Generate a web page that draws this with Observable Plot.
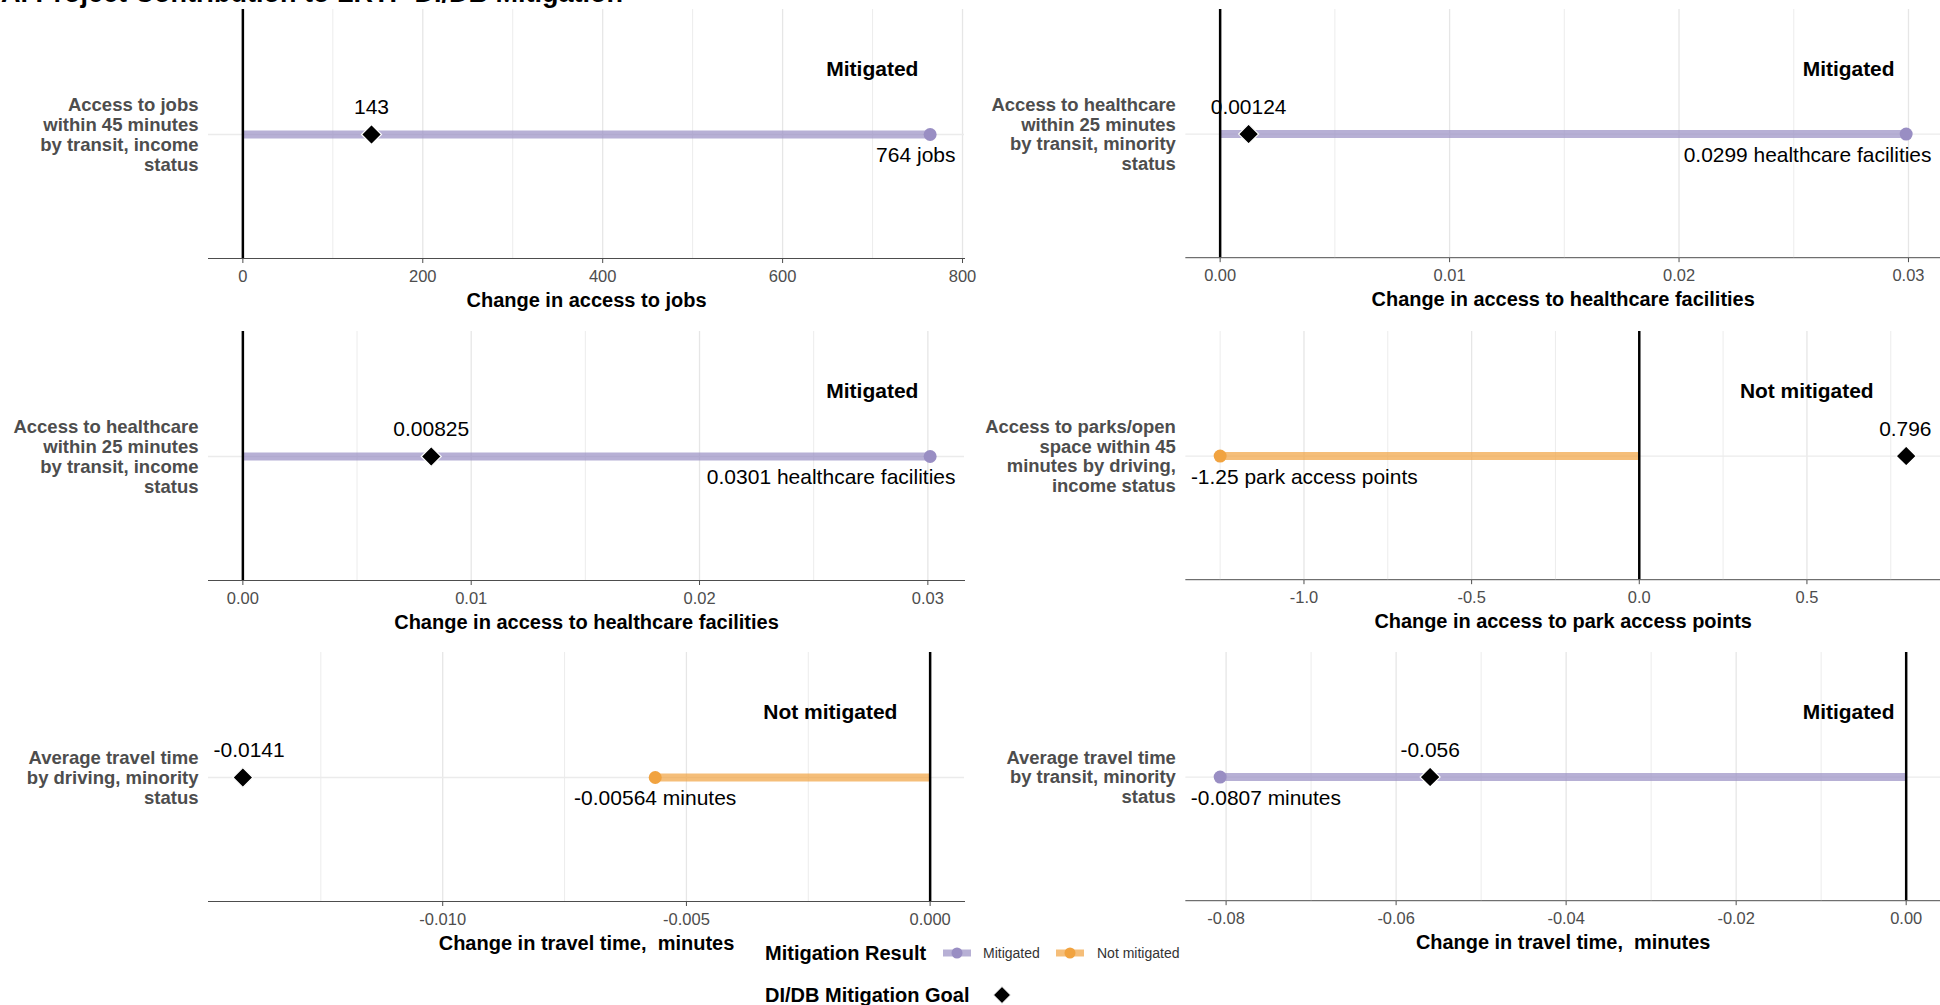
<!DOCTYPE html>
<html>
<head>
<meta charset="utf-8">
<script src="https://cdn.jsdelivr.net/npm/d3@7"></script>
<script src="https://cdn.jsdelivr.net/npm/@observablehq/plot@0.6"></script>
<style>
html, body { margin: 0; padding: 0; background: #fff; }
#root { position: relative; width: 1940px; height: 1005px; overflow: hidden; font-family: "Liberation Sans", Arial, sans-serif; background: #fff; }
.panel { position: absolute; }
.panel svg { overflow: visible; }
.panel text { white-space: pre; }
#title { position: absolute; left: 1px; top: -20px; font-size: 27px; line-height: 1; font-weight: bold; white-space: nowrap; color: #000; }
.lg { position: absolute; white-space: nowrap; line-height: 24px; }
.lgTitle { font-size: 20px; font-weight: bold; color: #000; }
.lgLab { font-size: 14px; color: #333; }
.lgKey { position: absolute; }
</style>
</head>
<body>
<div id="root">
  <div id="title">A. Project Contribution to LRTP DI/DB Mitigation</div>
</div>
<script>
// ---------------- DATA ----------------
const categories = [
  "Access to jobs\nwithin 45 minutes\nby transit, income\nstatus",
  "Access to healthcare\nwithin 25 minutes\nby transit, minority\nstatus",
  "Access to healthcare\nwithin 25 minutes\nby transit, income\nstatus",
  "Access to parks/open\nspace within 45\nminutes by driving,\nincome status",
  "Average travel time\nby driving, minority\nstatus",
  "Average travel time\nby transit, minority\nstatus"
];
const resultValues = [764, 0.0299, 0.0301, -1.25, -0.00564, -0.0807];
const goalValues = [143, 0.00124, 0.00825, 0.796, -0.0141, -0.056];
const statuses = ["Mitigated", "Mitigated", "Mitigated", "Not mitigated", "Not mitigated", "Mitigated"];
const resultLabels = [
  "764 jobs",
  "0.0299 healthcare facilities",
  "0.0301 healthcare facilities",
  "-1.25 park access points",
  "-0.00564 minutes",
  "-0.0807 minutes"
];
const goalLabels = ["143", "0.00124", "0.00825", "0.796", "-0.0141", "-0.056"];
const axisTitles = [
  "Change in access to jobs",
  "Change in access to healthcare facilities",
  "Change in access to healthcare facilities",
  "Change in access to park access points",
  "Change in travel time,  minutes",
  "Change in travel time,  minutes"
];
const tickValues = [
  [0, 200, 400, 600, 800],
  [0, 0.01, 0.02, 0.03],
  [0, 0.01, 0.02, 0.03],
  [-1, -0.5, 0, 0.5],
  [-0.01, -0.005, 0],
  [-0.08, -0.06, -0.04, -0.02, 0]
];
const tickLabels = [
  ["0", "200", "400", "600", "800"],
  ["0.00", "0.01", "0.02", "0.03"],
  ["0.00", "0.01", "0.02", "0.03"],
  ["-1.0", "-0.5", "0.0", "0.5"],
  ["-0.010", "-0.005", "0.000"],
  ["-0.08", "-0.06", "-0.04", "-0.02", "0.00"]
];
const legendResults = ["Mitigated", "Not mitigated"];

// ---------------- STYLES ----------------
const dotColor = {"Mitigated": "#998ec3", "Not mitigated": "#f1a340"};
const FONT = "Liberation Sans";
const canvas = document.createElement("canvas");
const ctx = canvas.getContext("2d");
function measure(text, size, weight) {
  ctx.font = `${weight || "normal"} ${size}px "${FONT}"`;
  return ctx.measureText(text).width;
}

const root = document.getElementById("root");

categories.forEach((cat, i) => {
  const col = i % 2, row = Math.floor(i / 2);
  const left = col ? 970 : 0;
  const width = col ? 973 : 970;
  const mL = col ? 216 : 208;
  const mR = col ? 0 : 6;
  const top = Math.round(row * 321.5);
  const height = 321, mT = 9, mB = 63;

  const v = resultValues[i], g = goalValues[i];
  const lo = Math.min(0, v, g), hi = Math.max(0, v, g);
  const span = hi - lo;
  const dom = [lo - 0.05 * span, hi + 0.05 * span];
  const xs = d3.scaleLinear().domain(dom).range([mL, width - mR]);

  // ggrepel-like clamping of label centres inside the panel
  const padL = 5, padR = 9;
  function clampX(value, label) {
    const w = measure(label, 21);
    const px = xs(value);
    const c = Math.max(mL + padL + w / 2, Math.min(width - mR - padR - w / 2, px));
    return xs.invert(c);
  }

  const d = {
    cat,
    value: v,
    goal: g,
    status: statuses[i],
    rlabel: resultLabels[i],
    glabel: goalLabels[i],
    rx: clampX(v, resultLabels[i]),
    gx: clampX(g, goalLabels[i])
  };

  const ticks = tickValues[i];
  const step = ticks[1] - ticks[0];
  const minors = [];
  for (let k = -2; k <= ticks.length + 1; k++) {
    const m = ticks[0] + (k + 0.5) * step;
    if (m >= dom[0] && m <= dom[1]) minors.push(m);
  }
  const majors = ticks.filter(t => t >= dom[0] && t <= dom[1]);

  const statusW = measure(statuses[i], 21, "bold");

  const chart = Plot.plot({
    width, height,
    marginTop: mT, marginBottom: mB, marginLeft: mL, marginRight: mR,
    style: {fontFamily: FONT, fontSize: "16.5px", color: "#4D4D4D", background: "transparent", overflow: "visible"},
    x: {
      domain: dom,
      ticks: ticks,
      tickFormat: t => tickLabels[i][ticks.indexOf(t)],
      tickSize: 5,
      tickPadding: 7,
      label: null,
      line: true
    },
    y: {type: "point", domain: [cat], padding: 0.5, axis: null},
    marks: [
      Plot.ruleX(minors, {stroke: "#ECECEC", strokeWidth: 1}),
      Plot.ruleX(majors, {stroke: "#E6E6E6", strokeWidth: 1.3}),
      Plot.ruleY([d], {y: "cat", stroke: "#EBEBEB", strokeWidth: 1.3}),
      Plot.ruleY([d], {y: "cat", x1: () => 0, x2: "value", stroke: dotColor[d.status], strokeOpacity: 0.7, strokeWidth: 8}),
      Plot.ruleX([0], {stroke: "#000", strokeWidth: 2.5}),
      Plot.dot([d], {x: "value", y: "cat", r: 6.5, fill: dotColor[d.status], stroke: "none"}),
      Plot.dot([d], {x: "goal", y: "cat", symbol: "diamond2", r: 9, fill: "#000", stroke: "#fff", strokeWidth: 1.2}),
      Plot.text([d], {x: "rx", y: "cat", text: "rlabel", dy: 21, fontSize: 21, fill: "#000"}),
      Plot.text([d], {x: "gx", y: "cat", text: "glabel", dy: -27, fontSize: 21, fill: "#000"}),
      Plot.text([d], {y: "cat", text: "status", frameAnchor: "right", textAnchor: "end", dx: -0.5 * statusW, dy: -65, fontSize: 21, fontWeight: "bold", fill: "#000"}),
      Plot.text([d], {y: "cat", text: "cat", frameAnchor: "left", textAnchor: "end", dx: -10, fontSize: 18.5, fontWeight: "bold", fill: "#4D4D4D", lineHeight: 1.08}),
      Plot.text([axisTitles[i]], {text: t => t, frameAnchor: "bottom", dy: 48, fontSize: 20, fontWeight: "bold", fill: "#000"})
    ]
  });

  const div = document.createElement("div");
  div.className = "panel";
  div.style.left = left + "px";
  div.style.top = top + "px";
  div.appendChild(chart);
  root.appendChild(div);
});

// ---------------- LEGEND ----------------
function addEl(html, cls, x, y) {
  const el = document.createElement("div");
  el.className = cls;
  el.style.left = x + "px";
  el.style.top = y + "px";
  el.innerHTML = html;
  root.appendChild(el);
  return el;
}
addEl("Mitigation Result", "lg lgTitle", 765, 941);
const keyX = [943, 1056];
const labX = [983, 1097];
legendResults.forEach((r, k) => {
  const c = dotColor[r];
  addEl(`<svg width="28" height="16"><line x1="0" x2="28" y1="8" y2="8" stroke="${c}" stroke-opacity="0.7" stroke-width="7"/><circle cx="14" cy="8" r="5.5" fill="${c}"/></svg>`, "lgKey", keyX[k], 945);
  addEl(r, "lg lgLab", labX[k], 941);
});
addEl("DI/DB Mitigation Goal", "lg lgTitle", 765, 983);
addEl(`<svg width="20" height="20"><path d="M10,1.5L18.5,10L10,18.5L1.5,10Z" fill="#000" stroke="#fff" stroke-width="1"/></svg>`, "lgKey", 992, 985);
</script>
</body>
</html>
